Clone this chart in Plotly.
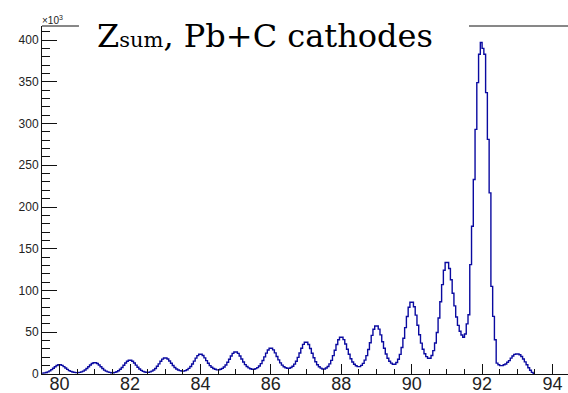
import numpy as np
import plotly.graph_objects as go

# Histogram of Z_sum: 0.05-wide bins from 79.5 to 93.5, counts in units of 10^3.
x_lo = 79.5
bin_w = 0.05

# One list per unit of charge: the 20 bins from Z-0.5 to Z+0.5
z80 = [1.0, 1.3, 1.8, 2.6, 3.7, 5.2, 6.9, 8.7, 10.2, 11.0,
       11.0, 10.3, 8.8, 7.1, 5.5, 4.1, 3.1, 2.4, 1.9, 1.6]
z81 = [1.6, 2.0, 2.6, 3.5, 4.8, 6.6, 8.6, 10.8, 12.5, 13.5,
       13.5, 12.5, 10.7, 8.6, 6.5, 4.7, 3.4, 2.5, 1.9, 1.5]
z82 = [1.5, 2.0, 2.7, 3.9, 5.6, 7.8, 10.4, 13.1, 15.3, 16.5,
       16.5, 15.3, 13.2, 10.6, 8.1, 5.9, 4.3, 3.2, 2.4, 2.0]
z83 = [2.0, 2.5, 3.4, 4.8, 6.6, 9.2, 12.1, 15.2, 17.8, 19.2,
       19.2, 17.9, 15.6, 12.8, 10.1, 7.7, 6.0, 4.8, 4.0, 3.5]
z84 = [3.5, 4.1, 5.1, 6.7, 8.9, 12.0, 15.4, 19.0, 22.0, 23.6,
       23.6, 22.1, 19.3, 16.0, 12.8, 10.0, 8.0, 6.5, 5.6, 5.0]
z85 = [5.0, 5.6, 6.7, 8.4, 10.8, 14.0, 17.6, 21.5, 24.7, 26.4,
       26.4, 24.7, 21.6, 17.9, 14.3, 11.2, 8.9, 7.3, 6.2, 5.6]
z86 = [5.6, 6.4, 7.6, 9.6, 12.4, 16.2, 20.5, 25.0, 28.8, 30.8,
       30.8, 28.9, 25.3, 21.0, 16.9, 13.3, 10.6, 8.7, 7.5, 6.8]
z87 = [6.8, 7.7, 9.3, 11.8, 15.2, 19.9, 25.2, 30.8, 35.5, 38.0,
       38.0, 35.4, 30.6, 24.9, 19.4, 14.6, 11.1, 8.6, 7.0, 6.0]
z88 = [6.0, 7.1, 9.0, 12.1, 16.3, 22.0, 28.4, 35.3, 41.0, 44.0,
       44.0, 41.2, 35.9, 29.6, 23.6, 18.3, 14.4, 11.6, 9.9, 8.8]
z89 = [8.8, 10.3, 12.7, 16.6, 22.0, 29.3, 37.5, 46.3, 53.6, 57.5,
       57.5, 53.8, 46.9, 38.7, 30.9, 24.0, 18.9, 15.3, 13.0, 11.6]
z90 = [11.6, 13.8, 17.6, 23.5, 31.7, 42.8, 55.5, 68.9, 80.0, 86.0,
       86.0, 80.6, 70.5, 58.4, 47.0, 37.0, 29.6, 24.2, 20.8, 18.8]
z91 = [18.8, 22.2, 28.0, 37.2, 49.8, 67.0, 86.5, 107.1, 124.3, 133.5,
       133.5, 126.3, 112.9, 96.8, 81.6, 68.3, 58.3, 51.2, 46.7, 44.0]
z92 = [48.0, 60.0, 71.0, 131.0, 177.0, 233.0, 293.0, 349.0, 383.0, 397.0,
       390.0, 383.0, 337.0, 281.0, 217.0, 105.0, 69.0, 41.0, 13.0, 11.0]
z93 = [10.0, 10.0, 11.0, 12.0, 14.0, 16.0, 19.0, 21.5, 23.5, 24.0,
       24.0, 23.0, 21.0, 18.0, 14.5, 11.0, 7.5, 4.5, 2.0, 0.5]

counts = z80 + z81 + z82 + z83 + z84 + z85 + z86 + z87 + z88 + z89 + z90 + z91 + z92 + z93
edges = x_lo + bin_w * np.arange(len(counts) + 1)
step_y = counts + [counts[-1]]

x_ticks = [80, 82, 84, 86, 88, 90, 92, 94]
y_max = 1.05 * max(counts)

fig = go.Figure()
fig.add_trace(go.Scatter(
    x=edges, y=step_y, mode="lines",
    line=dict(shape="hv", color="#0a0aa0", width=1.4),
    hoverinfo="skip", showlegend=False,
))

axis_font = dict(family="Liberation Sans, Arial, sans-serif", color="#222222")
fig.update_xaxes(
    range=[79.5, 94.44], tickmode="array", tickvals=x_ticks,
    ticktext=[str(t) for t in x_ticks],
    ticks="inside", ticklen=10, tickwidth=1, tickcolor="#111111",
    minor=dict(dtick=0.5, tick0=80, ticks="inside", ticklen=5, tickcolor="#111111"),
    showline=True, linecolor="#111111", linewidth=1,
    showgrid=False, zeroline=False, automargin=False,
    ticklabelstandoff=-7,
    tickfont=dict(size=18, **axis_font),
)
fig.update_yaxes(
    range=[0, y_max], dtick=50, tick0=0,
    ticks="inside", ticklen=15, tickwidth=1, tickcolor="#111111",
    minor=dict(dtick=10, ticks="inside", ticklen=8, tickcolor="#111111"),
    showline=True, linecolor="#111111", linewidth=1,
    showgrid=False, zeroline=False, automargin=False,
    tickfont=dict(size=12, **axis_font),
)

# Upper frame edge, interrupted by the title
fig.add_shape(type="line", xref="paper", yref="paper", x0=0, x1=0.0703, y0=1, y1=1,
              line=dict(color="#111111", width=1))
fig.add_shape(type="line", xref="paper", yref="paper", x0=0.8118, x1=1, y0=1, y1=1,
              line=dict(color="#111111", width=1))

fig.add_annotation(
    text="Z<span style='font-size:21px'>sum</span>, Pb+C cathodes",
    xref="paper", yref="paper", x=0.101, y=0.9727,
    xanchor="left", yanchor="middle", showarrow=False,
    font=dict(family="DejaVu Serif, serif", size=32, color="#000000"),
)
fig.add_annotation(
    text="×10<sup>3</sup>", xref="paper", yref="paper", x=-0.004, y=0.995,
    xanchor="left", yanchor="bottom", showarrow=False,
    font=dict(family="Liberation Sans, Arial, sans-serif", size=10, color="#222222"),
)

fig.update_layout(
    width=568, height=393,
    margin=dict(l=42, r=0, t=26, b=19),
    paper_bgcolor="white", plot_bgcolor="white",
)

fig.write_html("out.html")
